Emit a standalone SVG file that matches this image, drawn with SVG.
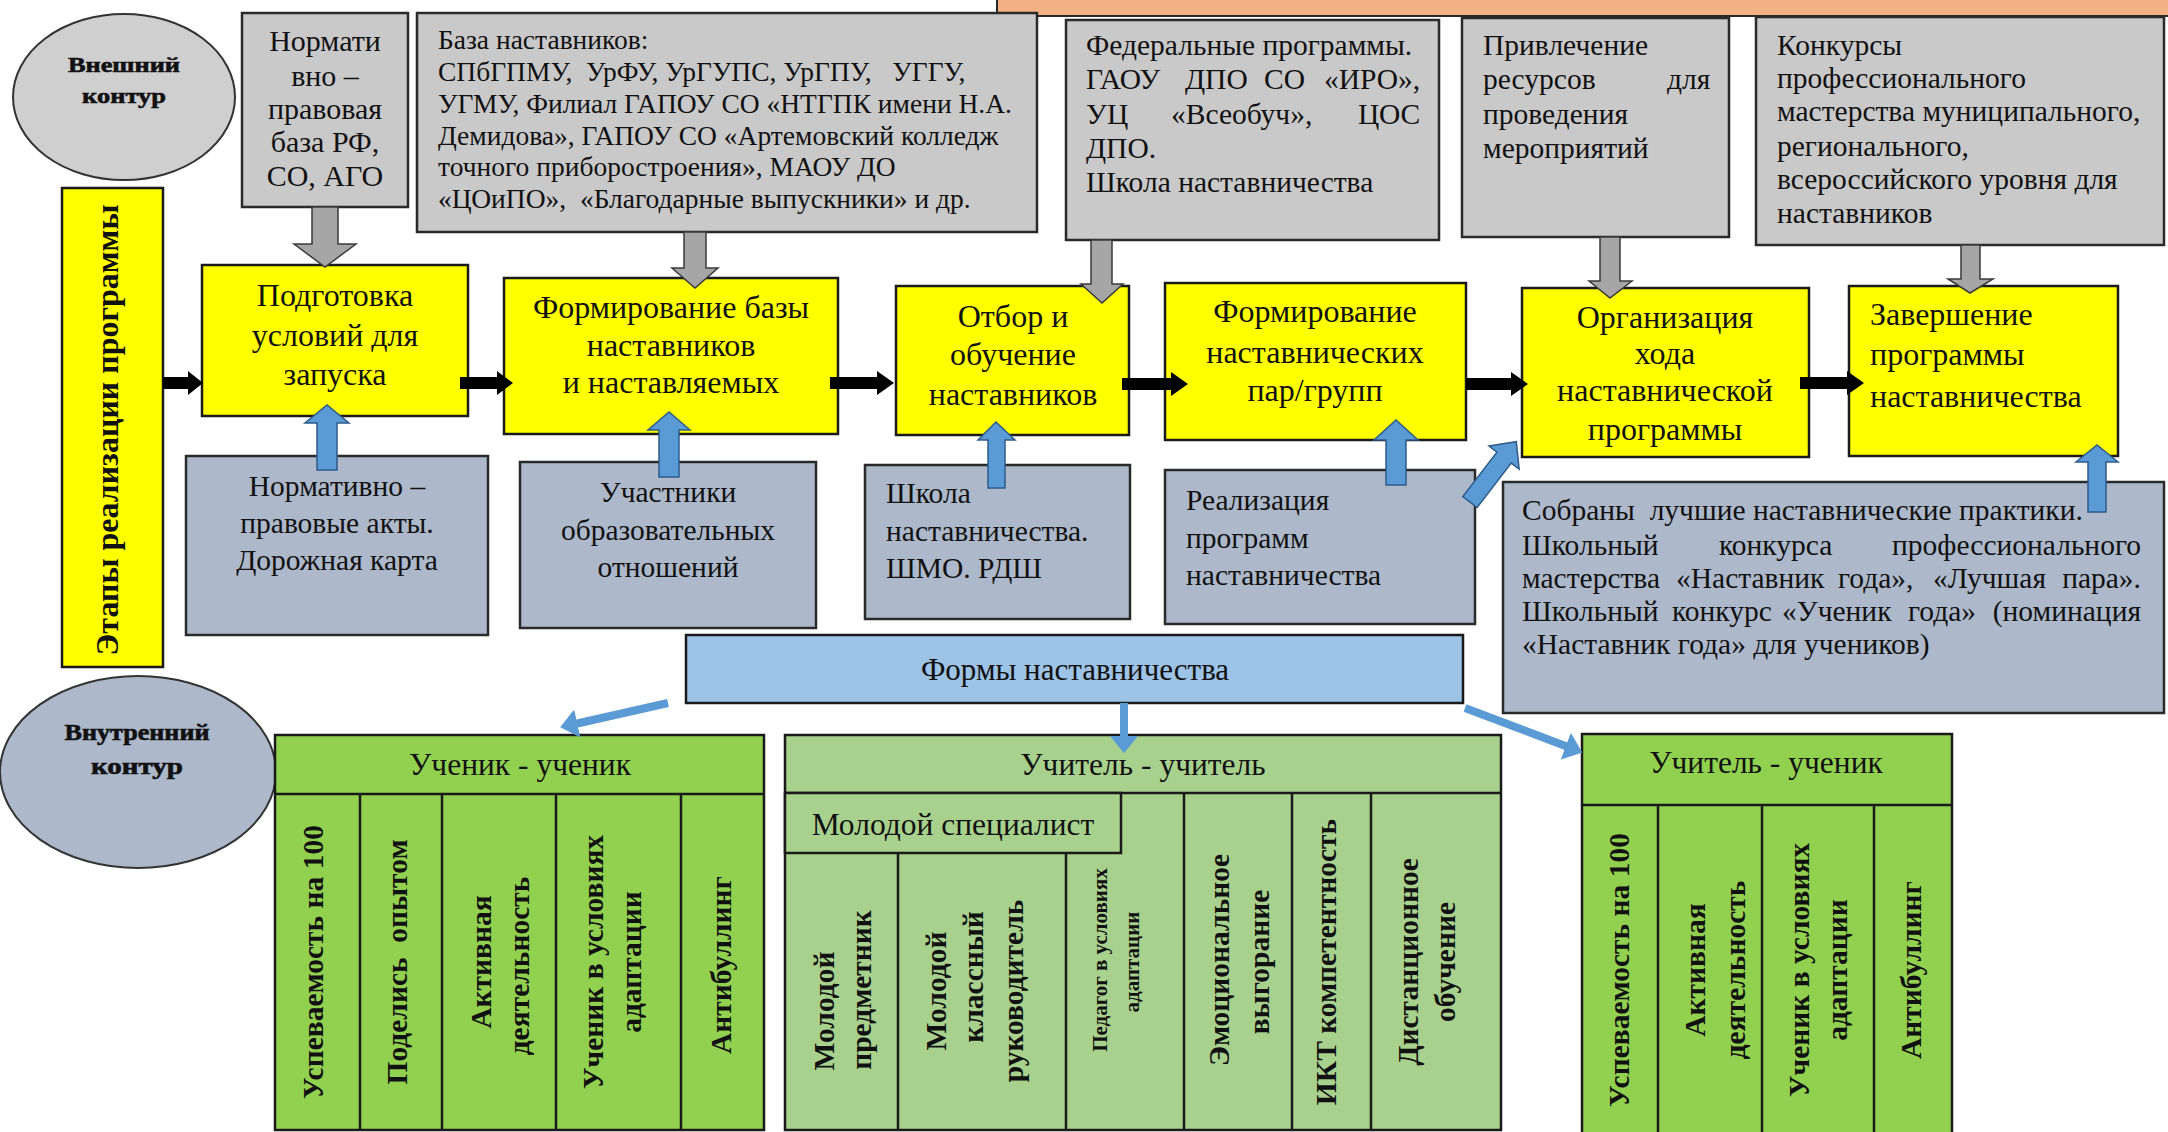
<svg xmlns="http://www.w3.org/2000/svg" width="2168" height="1132" viewBox="0 0 2168 1132">
<defs>
<style>
 text { font-family: "Liberation Serif", "Times New Roman", serif; fill: #111; }
 .gray { fill: #c9c9c9; stroke: #2a2a2a; stroke-width: 2.5; }
 .yel { fill: #ffff00; stroke: #1a1a1a; stroke-width: 2.5; }
 .bg { fill: #adb9ca; stroke: #2a2a2a; stroke-width: 2.5; }
 .grn { fill: #92d050; stroke: #1a1a1a; stroke-width: 2.5; }
 .lgrn { fill: #a9d18e; stroke: #1a1a1a; stroke-width: 2.5; }
 .ln { stroke: #1a1a1a; stroke-width: 2.5; fill: none; }
 .t27 { font-size: 27.5px; }
 .t29 { font-size: 29.5px; }
 .t30 { font-size: 30px; }
 .t31 { font-size: 31.5px; }
 .t32 { font-size: 32px; }
 .mid { text-anchor: middle; }
 .end { text-anchor: end; }
 .bold { font-weight: bold; }
 .heavy { font-weight: bold; stroke: #111; stroke-width: 0.6; }
 .col { font-size: 29.5px; font-weight: bold; text-anchor: middle; }
 .colS { font-size: 21px; font-weight: bold; text-anchor: middle; }
 .garr { fill: #a6a6a6; stroke: #3a3a3a; stroke-width: 1.5; }
 .barr { fill: #000; }
 .uarr { fill: #5b9bd5; stroke: #2e5b8a; stroke-width: 1.5; }
 .tarr { stroke: #5b9bd5; stroke-width: 8; fill: none; marker-end: url(#bh); }
</style>
<marker id="bh" viewBox="0 0 2.2 3.6" refX="0.3" refY="1.8" markerWidth="2.2" markerHeight="3.6" orient="auto" markerUnits="strokeWidth"><path d="M0,0 L2.2,1.8 L0,3.6 Z" fill="#5b9bd5"/></marker>
</defs>
<rect x="0" y="0" width="2168" height="1132" fill="#ffffff"/>

<g id="orange-bar"><rect x="997" y="-3" width="1175" height="19" fill="#f4b183" stroke="#2a2a2a" stroke-width="2"/></g>

<g id="outer-contour">
 <ellipse cx="124" cy="97" rx="111" ry="83" fill="#cfcfcf" stroke="#333" stroke-width="2"/>
 <text class="mid heavy" font-size="22" x="124" y="72" textLength="112" lengthAdjust="spacingAndGlyphs">Внешний</text>
 <text class="mid heavy" font-size="22" x="124" y="103" textLength="84" lengthAdjust="spacingAndGlyphs">контур</text>
</g>

<g id="box-normbase">
 <rect class="gray" x="242" y="13" width="166" height="194"/>
 <text class="t30 mid"><tspan x="325" y="51">Нормати</tspan><tspan x="325" y="86">вно –</tspan><tspan x="325" y="119">правовая</tspan><tspan x="325" y="152">база РФ,</tspan><tspan x="325" y="186">СО, АГО</tspan></text>
</g>

<g id="box-mentorbase">
 <rect class="gray" x="417" y="13" width="620" height="219"/>
 <text class="t27" xml:space="preserve"><tspan x="438" y="49">База наставников:</tspan><tspan x="438" y="81">СПбГПМУ,  УрФУ, УрГУПС, УрГПУ,   УГГУ,</tspan><tspan x="438" y="113">УГМУ, Филиал ГАПОУ СО «НТГПК имени Н.А.</tspan><tspan x="438" y="145">Демидова», ГАПОУ СО «Артемовский колледж</tspan><tspan x="438" y="176">точного приборостроения», МАОУ ДО</tspan><tspan x="438" y="208">«ЦОиПО»,  «Благодарные выпускники» и др.</tspan></text>
</g>

<g id="box-federal">
 <rect class="gray" x="1066" y="20" width="373" height="220"/>
 <text class="t29"><tspan x="1086" y="55">Федеральные программы.</tspan></text>
 <text class="t29" y="89"><tspan x="1086">ГАОУ</tspan><tspan x="1185">ДПО</tspan><tspan x="1264">СО</tspan><tspan x="1324">«ИРО»,</tspan></text>
 <text class="t29" y="124"><tspan x="1086">УЦ</tspan><tspan x="1171">«Всеобуч»,</tspan><tspan x="1358">ЦОС</tspan></text>
 <text class="t29"><tspan x="1086" y="158">ДПО.</tspan><tspan x="1086" y="192">Школа наставничества</tspan></text>
</g>

<g id="box-resources">
 <rect class="gray" x="1462" y="18" width="267" height="219"/>
 <text class="t29"><tspan x="1483" y="55">Привлечение</tspan></text>
 <text class="t29" y="89"><tspan x="1483">ресурсов</tspan><tspan x="1667">для</tspan></text>
 <text class="t29"><tspan x="1483" y="124">проведения</tspan><tspan x="1483" y="158">мероприятий</tspan></text>
</g>

<g id="box-contests">
 <rect class="gray" x="1756" y="17" width="408" height="228"/>
 <text class="t29"><tspan x="1777" y="55">Конкурсы</tspan><tspan x="1777" y="88">профессионального</tspan><tspan x="1777" y="121">мастерства муниципального,</tspan><tspan x="1777" y="156">регионального,</tspan><tspan x="1777" y="189">всероссийского уровня для</tspan><tspan x="1777" y="223">наставников</tspan></text>
</g>

<g id="stages-bar">
 <rect class="yel" x="62" y="188" width="101" height="479"/>
 <text class="bold" font-size="32" text-anchor="middle" transform="translate(107,430) rotate(-90)" y="11">Этапы реализации программы</text>
</g>

<g id="stage-1">
 <rect class="yel" x="202" y="265" width="266" height="151"/>
 <text class="t32 mid"><tspan x="335" y="306">Подготовка</tspan><tspan x="335" y="346">условий для</tspan><tspan x="335" y="385">запуска</tspan></text>
</g>
<g id="stage-2">
 <rect class="yel" x="504" y="278" width="334" height="156"/>
 <text class="t32 mid"><tspan x="671" y="318">Формирование базы</tspan><tspan x="671" y="356">наставников</tspan><tspan x="671" y="393">и наставляемых</tspan></text>
</g>
<g id="stage-3">
 <rect class="yel" x="896" y="286" width="233" height="149"/>
 <text class="t32 mid"><tspan x="1013" y="327">Отбор и</tspan><tspan x="1013" y="365">обучение</tspan><tspan x="1013" y="405">наставников</tspan></text>
</g>
<g id="stage-4">
 <rect class="yel" x="1165" y="283" width="301" height="157"/>
 <text class="t32 mid"><tspan x="1315" y="322">Формирование</tspan><tspan x="1315" y="363">наставнических</tspan><tspan x="1315" y="401">пар/групп</tspan></text>
</g>
<g id="stage-5">
 <rect class="yel" x="1522" y="288" width="287" height="169"/>
 <text class="t32 mid"><tspan x="1665" y="328">Организация</tspan><tspan x="1665" y="364">хода</tspan><tspan x="1665" y="401">наставнической</tspan><tspan x="1665" y="440">программы</tspan></text>
</g>
<g id="stage-6">
 <rect class="yel" x="1849" y="286" width="269" height="170"/>
 <text class="t32"><tspan x="1870" y="325">Завершение</tspan><tspan x="1870" y="365">программы</tspan><tspan x="1870" y="407">наставничества</tspan></text>
</g>

<g id="box-legal">
 <rect class="bg" x="186" y="456" width="302" height="179"/>
 <text class="t29 mid"><tspan x="337" y="496">Нормативно –</tspan><tspan x="337" y="533">правовые акты.</tspan><tspan x="337" y="570">Дорожная карта</tspan></text>
</g>
<g id="box-participants">
 <rect class="bg" x="520" y="462" width="296" height="166"/>
 <text class="t29 mid"><tspan x="668" y="502">Участники</tspan><tspan x="668" y="540">образовательных</tspan><tspan x="668" y="577">отношений</tspan></text>
</g>
<g id="box-school">
 <rect class="bg" x="865" y="465" width="265" height="154"/>
 <text class="t29"><tspan x="886" y="503">Школа</tspan><tspan x="886" y="541">наставничества.</tspan><tspan x="886" y="578">ШМО. РДШ</tspan></text>
</g>
<g id="box-realization">
 <rect class="bg" x="1165" y="470" width="310" height="154"/>
 <text class="t29"><tspan x="1186" y="510">Реализация</tspan><tspan x="1186" y="548">программ</tspan><tspan x="1186" y="585">наставничества</tspan></text>
</g>
<g id="box-results">
 <rect class="bg" x="1503" y="482" width="661" height="231"/>
 <text class="t29" xml:space="preserve"><tspan x="1522" y="520">Собраны  лучшие наставнические практики.</tspan></text>
 <text class="t29" y="555"><tspan x="1522">Школьный</tspan><tspan x="1719">конкурса</tspan><tspan x="2141" text-anchor="end">профессионального</tspan></text>
 <text class="t29" y="588"><tspan x="1522">мастерства</tspan><tspan x="1676">«Наставник</tspan><tspan x="1838">года»,</tspan><tspan x="1933">«Лучшая</tspan><tspan x="2141" text-anchor="end">пара».</tspan></text>
 <text class="t29" y="621"><tspan x="1522">Школьный</tspan><tspan x="1672">конкурс</tspan><tspan x="1782">«Ученик</tspan><tspan x="1976" text-anchor="end">года»</tspan><tspan x="2141" text-anchor="end">(номинация</tspan></text>
 <text class="t29"><tspan x="1522" y="654">«Наставник года» для учеников)</tspan></text>
</g>

<g id="forms">
 <rect x="686" y="635" width="777" height="68" fill="#9dc3e6" stroke="#1a1a1a" stroke-width="2.5"/>
 <text class="mid" font-size="31" x="1075" y="680">Формы наставничества</text>
</g>

<g id="inner-contour">
 <ellipse cx="138" cy="772" rx="138" ry="96" fill="#adb9ca" stroke="#333" stroke-width="2"/>
 <text class="mid heavy" font-size="23" x="137" y="740" textLength="145" lengthAdjust="spacingAndGlyphs">Внутренний</text>
 <text class="mid heavy" font-size="23" x="137" y="774" textLength="92" lengthAdjust="spacingAndGlyphs">контур</text>
</g>

<g id="table-student-student">
 <rect class="grn" x="275" y="735" width="489" height="395"/>
 <path class="ln" d="M275,794 H764 M360,794 V1130 M442,794 V1130 M556,794 V1130 M681,794 V1130"/>
 <text class="t31 mid" x="520" y="775">Ученик - ученик</text>
 <text class="col" transform="translate(314,962) rotate(-90)" y="9">Успеваемость на 100</text>
 <text class="col" transform="translate(398,962) rotate(-90)" y="9" xml:space="preserve">Поделись  опытом</text>
 <text class="col" transform="translate(482,962) rotate(-90)" y="9">Активная</text>
 <text class="col" transform="translate(520,966) rotate(-90)" y="9">деятельность</text>
 <text class="col" transform="translate(594,962) rotate(-90)" y="9">Ученик в условиях</text>
 <text class="col" transform="translate(632,962) rotate(-90)" y="9">адаптации</text>
 <text class="col" transform="translate(722,965) rotate(-90)" y="9">Антибуллинг</text>
</g>

<g id="table-teacher-teacher">
 <rect class="lgrn" x="785" y="735" width="716" height="395"/>
 <path class="ln" d="M785,793 H1501 M898,853 V1130 M1066,853 V1130 M1184,793 V1130 M1292,793 V1130 M1371,793 V1130"/>
 <text class="t31 mid" x="1143" y="775">Учитель - учитель</text>
 <rect class="lgrn" x="785" y="793" width="336" height="60"/>
 <text class="t31 mid" x="953" y="835">Молодой специалист</text>
 <text class="col" transform="translate(825,1011) rotate(-90)" y="9">Молодой</text>
 <text class="col" transform="translate(862,990) rotate(-90)" y="9">предметник</text>
 <text class="col" transform="translate(937,991) rotate(-90)" y="9">Молодой</text>
 <text class="col" transform="translate(974,977) rotate(-90)" y="9">классный</text>
 <text class="col" transform="translate(1014,991) rotate(-90)" y="9">руководитель</text>
 <text class="colS" transform="translate(1101,960) rotate(-90)" y="6">Педагог в условиях</text>
 <text class="colS" transform="translate(1133,962) rotate(-90)" y="6">адаптации</text>
 <text class="col" transform="translate(1220,960) rotate(-90)" y="9">Эмоциональное</text>
 <text class="col" transform="translate(1260,962) rotate(-90)" y="9">выгорание</text>
 <text class="col" transform="translate(1327,962) rotate(-90)" y="9">ИКТ компетентность</text>
 <text class="col" transform="translate(1409,962) rotate(-90)" y="9">Дистанционное</text>
 <text class="col" transform="translate(1446,962) rotate(-90)" y="9">обучение</text>
</g>

<g id="table-teacher-student">
 <rect class="grn" x="1582" y="734" width="370" height="410"/>
 <path class="ln" d="M1582,805 H1952 M1658,805 V1134 M1762,805 V1134 M1874,805 V1134"/>
 <text class="t31 mid" x="1766" y="773">Учитель - ученик</text>
 <text class="col" transform="translate(1620,970) rotate(-90)" y="9">Успеваемость на 100</text>
 <text class="col" transform="translate(1696,970) rotate(-90)" y="9">Активная</text>
 <text class="col" transform="translate(1736,970) rotate(-90)" y="9">деятельность</text>
 <text class="col" transform="translate(1800,970) rotate(-90)" y="9">Ученик в условиях</text>
 <text class="col" transform="translate(1838,970) rotate(-90)" y="9">адаптации</text>
 <text class="col" transform="translate(1912,970) rotate(-90)" y="9">Антибуллинг</text>
</g>

<g id="connectors">
 <path class="garr" d="M312,207 H338 V244 H356 L325,267 L294,244 H312 Z"/>
 <path class="garr" d="M684,232 H706 V268 H718 L695,288 L672,268 H684 Z"/>
 <path class="garr" d="M1091,240 H1112 V284 H1123 L1102,303 L1081,284 H1091 Z"/>
 <path class="garr" d="M1600,237 H1620 V281 H1632 L1610,298 L1589,281 H1600 Z"/>
 <path class="garr" d="M1961,245 H1980 V279 H1993 L1970,293 L1948,279 H1961 Z"/>

 <path class="barr" d="M163,377 H188 V371 L203,383 L188,395 V389 H163 Z"/>
 <path class="barr" d="M460,377 H497 V371 L513,383 L497,395 V389 H460 Z"/>
 <path class="barr" d="M830,377 H877 V371 L894,383 L877,395 V389 H830 Z"/>
 <path class="barr" d="M1122,378 H1171 V372 L1188,384 L1171,396 V390 H1122 Z"/>
 <path class="barr" d="M1466,378 H1511 V372 L1528,384 L1511,396 V390 H1466 Z"/>
 <path class="barr" d="M1800,377 H1847 V371 L1864,383 L1847,395 V389 H1800 Z"/>

 <path class="uarr" d="M317,470 V423 H305 L327,405 L349,423 H337 V470 Z"/>
 <path class="uarr" d="M659,477 V430 H648 L669,412 L690,430 H679 V477 Z"/>
 <path class="uarr" d="M988,488 V440 H978 L996,422 L1015,440 H1005 V488 Z"/>
 <path class="uarr" d="M1386,485 V440 H1374 L1396,420 L1418,440 H1406 V485 Z"/>
 <path class="uarr" transform="translate(1470,502) rotate(37.5)" d="M-9,0 V-56 H-19 L0,-76 L19,-56 H9 V0 Z"/>
 <path class="uarr" d="M2088,512 V462 H2076 L2097,445 L2118,462 H2106 V512 Z"/>

 <path class="tarr" d="M668,703 L575,724"/>
 <path class="tarr" d="M1124,703 V738"/>
 <path class="tarr" d="M1465,708 L1568,747"/>
</g>
</svg>
